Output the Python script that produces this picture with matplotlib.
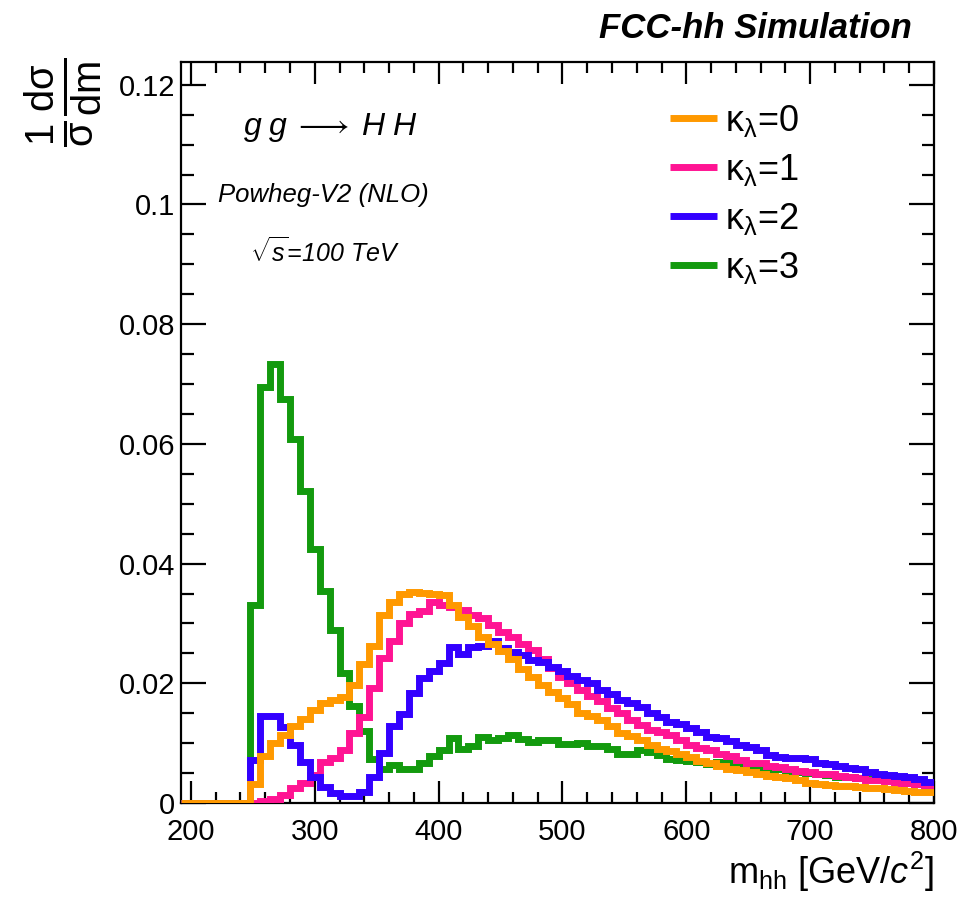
import numpy as np
import matplotlib
matplotlib.use('Agg')
import matplotlib.pyplot as plt
from matplotlib.ticker import MultipleLocator, FuncFormatter

plt.rcParams['font.family'] = ['Liberation Sans', 'DejaVu Sans']
plt.rcParams['mathtext.fontset'] = 'custom'
plt.rcParams['mathtext.rm'] = 'Liberation Sans'
plt.rcParams['mathtext.it'] = 'Liberation Sans:italic'
plt.rcParams['mathtext.bf'] = 'Liberation Sans:bold'

# m_hh binning: 8 GeV bins, axis from 192 to 800, nothing below 248
bin_width = 8
first_edge = 192
last_edge = 800
n_empty = 7

# normalised m_hh distributions, bins 248..792 (left edges)
kl0 = [0.0032, 0.0078, 0.0100, 0.0114, 0.0128, 0.0141, 0.0156, 0.0167, 0.0172, 0.0177,
       0.0197, 0.0232, 0.0263, 0.0314, 0.0336, 0.0349, 0.0353, 0.0351, 0.0349, 0.0347,
       0.0330, 0.0310, 0.0295, 0.0278, 0.0265, 0.0254, 0.0240, 0.0224, 0.0210, 0.0197,
       0.0185, 0.0175, 0.0165, 0.0150, 0.0145, 0.0139, 0.0129, 0.0117, 0.0112, 0.0106,
       0.0097, 0.0091, 0.0087, 0.0082, 0.0077, 0.0070, 0.0066, 0.0061, 0.0057, 0.0055,
       0.0051, 0.0049, 0.0045, 0.0043, 0.0042, 0.0039, 0.0034, 0.0031, 0.0030, 0.0029,
       0.0028, 0.0026, 0.0025, 0.0025, 0.0024, 0.0021, 0.0020, 0.0019, 0.0018]
kl1 = [0.0000, 0.0003, 0.0007, 0.0014, 0.0025, 0.0033, 0.0047, 0.0069, 0.0076, 0.0089,
       0.0117, 0.0144, 0.0192, 0.0242, 0.0270, 0.0300, 0.0316, 0.0320, 0.0336, 0.0330,
       0.0328, 0.0322, 0.0314, 0.0309, 0.0298, 0.0286, 0.0278, 0.0266, 0.0256, 0.0240,
       0.0226, 0.0210, 0.0200, 0.0189, 0.0178, 0.0170, 0.0159, 0.0150, 0.0138, 0.0130,
       0.0122, 0.0118, 0.0114, 0.0105, 0.0097, 0.0092, 0.0088, 0.0082, 0.0078, 0.0072,
       0.0067, 0.0066, 0.0062, 0.0060, 0.0056, 0.0054, 0.0052, 0.0049, 0.0048, 0.0045,
       0.0043, 0.0041, 0.0039, 0.0038, 0.0036, 0.0034, 0.0033, 0.0032, 0.0030]
kl2 = [0.0072, 0.0145, 0.0145, 0.0127, 0.0097, 0.0069, 0.0044, 0.0027, 0.0016, 0.0011,
       0.0011, 0.0019, 0.0044, 0.0083, 0.0128, 0.0149, 0.0184, 0.0209, 0.0221, 0.0234,
       0.0261, 0.0249, 0.0260, 0.0262, 0.0270, 0.0259, 0.0253, 0.0247, 0.0239, 0.0235,
       0.0228, 0.0220, 0.0212, 0.0205, 0.0200, 0.0188, 0.0182, 0.0172, 0.0167, 0.0160,
       0.0150, 0.0143, 0.0136, 0.0132, 0.0125, 0.0118, 0.0111, 0.0108, 0.0103, 0.0097,
       0.0094, 0.0088, 0.0081, 0.0077, 0.0075, 0.0076, 0.0073, 0.0066, 0.0065, 0.0061,
       0.0059, 0.0056, 0.0052, 0.0049, 0.0046, 0.0045, 0.0043, 0.0040, 0.0035]
kl3 = [0.0331, 0.0695, 0.0733, 0.0675, 0.0608, 0.0522, 0.0424, 0.0355, 0.0289, 0.0217,
       0.0162, 0.0121, 0.0074, 0.0056, 0.0063, 0.0056, 0.0056, 0.0067, 0.0079, 0.0088,
       0.0108, 0.0091, 0.0096, 0.0110, 0.0105, 0.0108, 0.0114, 0.0107, 0.0102, 0.0105,
       0.0105, 0.0099, 0.0099, 0.0100, 0.0096, 0.0096, 0.0090, 0.0082, 0.0082, 0.0088,
       0.0085, 0.0080, 0.0074, 0.0072, 0.0071, 0.0069, 0.0065, 0.0068, 0.0066, 0.0062,
       0.0058, 0.0057, 0.0055, 0.0056, 0.0054, 0.0052, 0.0050, 0.0049, 0.0046, 0.0044,
       0.0043, 0.0042, 0.0040, 0.0040, 0.0038, 0.0037, 0.0034, 0.0032, 0.0028]

labels = [r'$\mathrm{\kappa_{\lambda}}$=0', r'$\mathrm{\kappa_{\lambda}}$=1',
          r'$\mathrm{\kappa_{\lambda}}$=2', r'$\mathrm{\kappa_{\lambda}}$=3']
colors = ['#ff9900', '#ff1493', '#3300ff', '#139a0e']

W, H = 963, 900
fig = plt.figure(figsize=(W / 100, H / 100), dpi=100)
ax = fig.add_axes([181 / W, 1 - 803 / H, (934 - 181) / W, (803 - 62) / H])

edges = np.arange(first_edge, last_edge + 1, bin_width)
series = [kl0, kl1, kl2, kl3]
zorders = [5, 3, 4, 2]
handles = []
for vals, col, lab, z in zip(series, colors, labels, zorders):
    y = np.concatenate([np.zeros(n_empty), vals])
    ax.stairs(y, edges, baseline=None, color=col, linewidth=5, zorder=z)
    handles.append(plt.Line2D([], [], color=col, linewidth=5, solid_capstyle='butt'))

ax.set_xlim(first_edge, last_edge)
ax.set_ylim(0, 0.1238)

ax.xaxis.set_major_locator(MultipleLocator(100))
ax.xaxis.set_minor_locator(MultipleLocator(20))
ax.yaxis.set_major_locator(MultipleLocator(0.02))
ax.yaxis.set_minor_locator(MultipleLocator(0.005))
ax.yaxis.set_major_formatter(FuncFormatter(lambda v, p: '%g' % round(v, 3)))

ax.tick_params(which='both', direction='in', top=True, right=True, width=1.6, colors='black')
ax.tick_params(axis='x', which='major', length=16, pad=11, labelsize=21)
ax.tick_params(axis='x', which='minor', length=8)
ax.tick_params(axis='y', which='major', length=18, pad=4, labelsize=21)
ax.tick_params(axis='y', which='minor', length=9)
for s in ax.spines.values():
    s.set_linewidth(1.6)

ax.legend(handles, labels, loc='upper left', bbox_to_anchor=(670 / W, 1 - 103 / H),
          bbox_transform=fig.transFigure, frameon=False, fontsize=26,
          handlelength=1.3, handletextpad=0.22, labelspacing=0.36,
          borderpad=0, borderaxespad=0)

# titles and annotations
fig.text(912 / W, 1 - 28 / H, 'FCC-hh Simulation', ha='right', va='center',
         fontsize=25, fontweight='bold', fontstyle='italic')
fig.text(243 / W, 1 - 128 / H, r'$g\;g\;\longrightarrow\;H\;H$', ha='left', va='center',
         fontsize=23)
fig.text(218 / W, 1 - 195 / H, 'Powheg-V2 (NLO)', ha='left', va='center',
         fontsize=18.5, fontstyle='italic')
fig.text(250 / W, 1 - 252 / H, r'$\sqrt{s}$=100 TeV', ha='left', va='center',
         fontsize=18, fontstyle='italic')
fig.text(63 / W, 1 - 58 / H,
         r'$\frac{1}{\mathrm{\sigma}}\frac{\mathrm{d\sigma}}{\mathrm{dm}}$',
         rotation=90, ha='center', va='top', fontsize=41)
fig.text(934 / W, 1 - 872 / H, r'm$_{\mathrm{hh}}$ [GeV/$c^{2}$]', ha='right', va='center',
         fontsize=26)

fig.savefig('out.png', dpi=100)
